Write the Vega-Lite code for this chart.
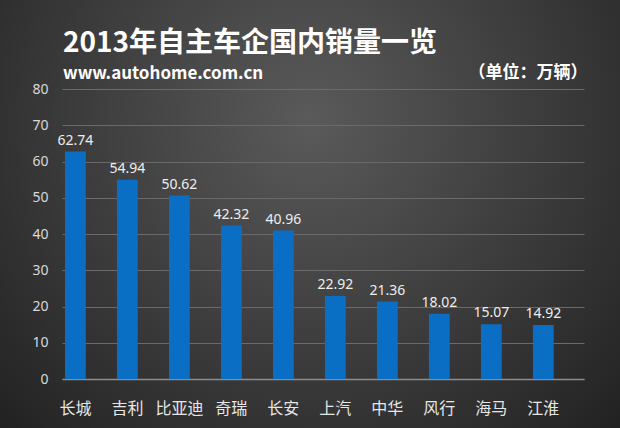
{
  "$schema": "https://vega.github.io/schema/vega-lite/v6.json",
  "width": 620,
  "height": 428,
  "autosize": {"type": "none"},
  "padding": 0,
  "background": "#2b2b2b",
  "view": {
    "stroke": null,
    "fill": {
      "gradient": "radial",
      "x1": 0.5, "y1": 0.35, "x2": 0.5, "y2": 0.35,
      "r1": 0, "r2": 0.75,
      "stops": [
        {"offset": 0, "color": "#5a5a5a"},
        {"offset": 1, "color": "#1e1e1e"}
      ]
    }
  },
  "title": {
    "text": "2013年自主车企国内销量一览",
    "subtitle": "www.autohome.com.cn",
    "anchor": "start",
    "frame": "group",
    "orient": "top",
    "offset": -82,
    "dx": 63,
    "font": "Noto Sans CJK SC",
    "fontSize": 28,
    "fontWeight": "bold",
    "color": "#ffffff",
    "subtitleFont": "Noto Sans CJK SC",
    "subtitleFontSize": 17,
    "subtitleFontWeight": "bold",
    "subtitleColor": "#ffffff",
    "subtitlePadding": 8
  },
  "data": {
    "values": [
      {"brand": "长城", "sales": 62.74},
      {"brand": "吉利", "sales": 54.94},
      {"brand": "比亚迪", "sales": 50.62},
      {"brand": "奇瑞", "sales": 42.32},
      {"brand": "长安", "sales": 40.96},
      {"brand": "上汽", "sales": 22.92},
      {"brand": "中华", "sales": 21.36},
      {"brand": "风行", "sales": 18.02},
      {"brand": "海马", "sales": 15.07},
      {"brand": "江淮", "sales": 14.92}
    ]
  },
  "encoding": {
    "x": {
      "field": "brand",
      "type": "nominal",
      "sort": null,
      "scale": {"range": [62, 584], "paddingInner": 0.6, "paddingOuter": 0.32, "align": 0.09},
      "axis": {
        "title": null,
        "orient": "bottom",
        "offset": -49,
        "labelAngle": 0,
        "ticks": false,
        "domain": true,
        "domainColor": "#8c8c8c",
        "domainWidth": 1.5,
        "grid": false,
        "labelFont": "Noto Sans CJK SC",
        "labelFontSize": 16,
        "labelColor": "#e6e6e6",
        "labelPadding": 21
      }
    },
    "y": {
      "field": "sales",
      "type": "quantitative",
      "scale": {"domain": [0, 80], "range": [379, 89], "nice": false, "zero": true},
      "axis": {
        "orient": "left",
        "offset": -62,
        "values": [0, 10, 20, 30, 40, 50, 60, 70, 80],
        "ticks": false,
        "domain": false,
        "grid": true,
        "gridColor": "#6a6a6a",
        "gridWidth": 1,
        "labelFont": "Noto Sans",
        "labelFontSize": 14,
        "labelColor": "#d9d9d9",
        "labelPadding": 14,
        "title": "（单位：万辆）",
        "titleAngle": 0,
        "titleX": 525,
        "titleY": 72,
        "titleAlign": "right",
        "titleBaseline": "middle",
        "titleFont": "Noto Sans CJK SC",
        "titleFontSize": 17,
        "titleFontWeight": "bold",
        "titleColor": "#ffffff"
      }
    }
  },
  "layer": [
    {"mark": {"type": "bar", "color": "#0a6fc4"}},
    {
      "mark": {"type": "text", "baseline": "bottom", "dy": -4, "font": "Noto Sans", "fontSize": 14, "color": "#eeeeee"},
      "encoding": {"text": {"field": "sales", "type": "quantitative", "format": ".2f"}}
    }
  ]
}
